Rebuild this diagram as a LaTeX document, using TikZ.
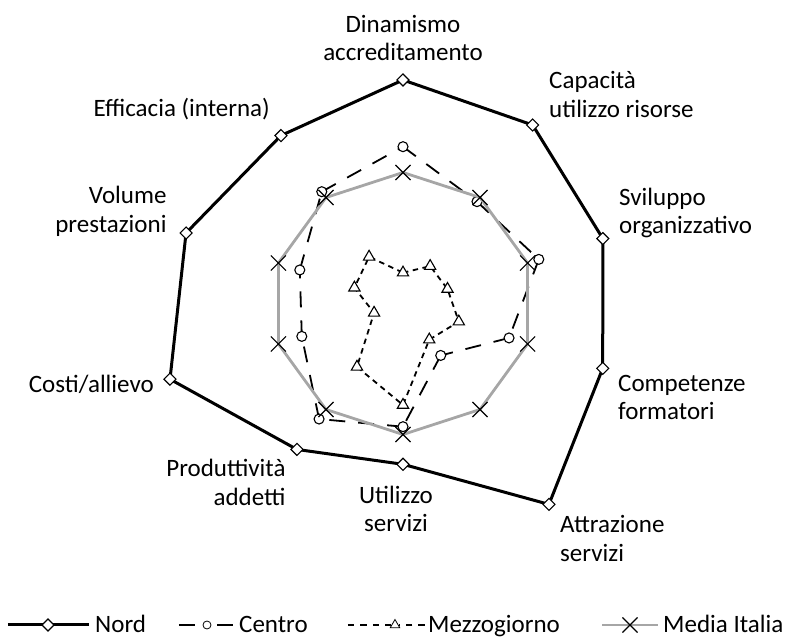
\documentclass[tikz,border=0pt]{standalone}
\usepackage{fontspec}
\setmainfont{Carlito}
\usetikzlibrary{shapes.geometric,shapes.misc}
\definecolor{mediagray}{HTML}{A6A6A6}
\begin{document}
\begin{tikzpicture}[x=1pt,y=1pt,
  lbl/.style={inner sep=0pt, font=\fontsize{25}{28.8}\selectfont},
  nordline/.style={line width=3pt, line join=miter, black},
  centroline/.style={line width=1.8pt, black, dash pattern=on 16pt off 13pt},
  mezzline/.style={line width=1.8pt, black, dash pattern=on 5.5pt off 4.5pt},
  medialine/.style={line width=2.8pt, mediagray, line join=miter},
  nordmark/.style={diamond, draw=black, fill=white, line width=1.1pt, inner sep=0pt, minimum size=12.5pt},
  centromark/.style={circle, draw=black, fill=white, line width=1.1pt, inner sep=0pt, minimum size=10pt},
  mezzmark/.style={regular polygon, regular polygon sides=3, draw=black, fill=white, line width=1.1pt, inner sep=0pt, minimum size=13pt},
  mediamark/.style={cross out, draw=black, line width=1.1pt, inner sep=0pt, minimum size=14pt},
  legdash/.style={line width=1.4pt, black, dash pattern=on 6.5pt off 6pt},
]
\useasboundingbox (-403,-335.5) rectangle (387,303.5);

% data points (angle 90 - 36k)
\foreach \r [count=\i from 0] in {223.5,220.6,210.1,210.0,248.3,160.8,180.4,245.0,228.1,207.6}
  {\coordinate (N\i) at ({90-36*\i}:\r);}
\foreach \r [count=\i from 0] in {156.8,125.9,142.8,111.5,64.2,123.2,142.8,106.4,108.5,138.2}
  {\coordinate (C\i) at ({90-36*\i}:\r);}
\foreach \r [count=\i from 0] in {30.8,46.2,46.8,58.7,44.7,101.5,78.3,30.4,51.1,57.7}
  {\coordinate (S\i) at ({90-36*\i}:\r);}
\foreach \r [count=\i from 0] in {131,131,131,131,131,131,131,131,131,131}
  {\coordinate (M\i) at ({90-36*\i}:\r);}

% Nord
\draw[nordline] (N0) -- (N1) -- (N2) -- (N3) -- (N4) -- (N5) -- (N6) -- (N7) -- (N8) -- (N9) -- cycle;
\foreach \i in {0,...,9} {\node[nordmark] (nm\i) at (N\i) {};}

% Centro
\foreach \i in {0,...,9} {
  \pgfmathtruncatemacro\j{mod(\i+1,10)}
  \draw[centroline] (C\i) -- (C\j);
}
\foreach \i in {0,...,9} {\node[centromark] (cm\i) at (C\i) {};}

% Mezzogiorno
\draw[mezzline] (S0) -- (S1) -- (S2) -- (S3) -- (S4) -- (S5) -- (S6) -- (S7) -- (S8) -- (S9) -- cycle;
\foreach \i in {0,...,9} {\node[mezzmark] (sm\i) at (S\i) {};}

% Media Italia
\draw[medialine] (M0) -- (M1) -- (M2) -- (M3) -- (M4) -- (M5) -- (M6) -- (M7) -- (M8) -- (M9) -- cycle;
\foreach \i in {0,...,9} {\node[mediamark] (mm\i) at (M\i) {};}

% axis labels (base anchor = baseline of last line)
\node[lbl, align=center, anchor=base] (lDin) at (0,242.5) {Dinamismo\\accreditamento};
\node[lbl, align=left, anchor=base west] (lCap) at (146,185.8) {Capacità\\utilizzo risorse};
\node[lbl, align=left, anchor=base west] (lSvi) at (216,69.5) {Sviluppo\\organizzativo};
\node[lbl, align=left, anchor=base west] (lCom) at (215,-116.5) {Competenze\\formatori};
\node[lbl, align=left, anchor=base west] (lAtt) at (157,-258) {Attrazione\\servizi};
\node[lbl, align=center, anchor=base] (lUti) at (-7,-228.5) {Utilizzo\\servizi};
\node[lbl, align=right, anchor=base east] (lPro) at (-117.3,-202.2) {Produttività\\addetti};
\node[lbl, align=right, anchor=base east] (lCos) at (-249,-89.5) {Costi/allievo};
\node[lbl, align=right, anchor=base east] (lVol) at (-236.3,70.8) {Volume\\prestazioni};
\node[lbl, align=right, anchor=base east] (lEff) at (-133,186.8) {Efficacia (interna)};

% legend
\coordinate (ln1) at (-395,-321.5); \coordinate (ln2) at (-314,-321.5);
\draw[nordline] (ln1) -- (ln2);
\node[nordmark] (lnm) at (-355,-321.5) {};
\node[lbl, anchor=base west] (lnt) at (-308,-329.5) {Nord};

\coordinate (lc1) at (-224,-321.5); \coordinate (lc2) at (-170,-321.5);
\node[centromark, minimum size=8pt, line width=0.8pt] (lcm) at (-196,-321.5) {};
\draw[line width=1.4pt] (lc1) -- ++(16,0);
\draw[line width=1.4pt] (lc2) -- ++(-16,0);
\node[lbl, anchor=base west] (lct) at (-164,-329.5) {Centro};

\coordinate (ls1) at (-55,-321.5); \coordinate (ls2) at (22,-321.5);
\node[mezzmark, minimum size=11pt, line width=0.8pt] (lsm) at (-8,-321.5) {};
\draw[legdash] (ls1) -- (lsm.west);
\draw[legdash] (ls2) -- (lsm.east);
\node[lbl, anchor=base west] (lst) at (25,-329.5) {Mezzogiorno};

\coordinate (lm1) at (199,-321.5); \coordinate (lm2) at (255,-321.5);
\draw[medialine] (lm1) -- (lm2);
\node[mediamark] (lmm) at (227,-321.5) {};
\node[lbl, anchor=base west] (lmt) at (260,-329.5) {Media Italia};
\end{tikzpicture}
\end{document}
